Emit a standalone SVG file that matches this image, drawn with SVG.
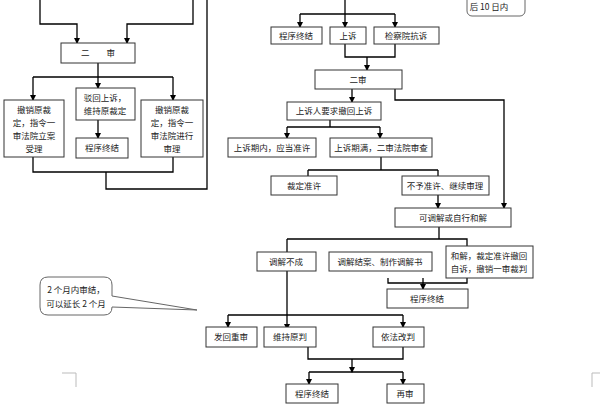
<svg xmlns="http://www.w3.org/2000/svg" width="600" height="405" viewBox="0 0 600 405">
<defs><marker id="a" markerWidth="6" markerHeight="6" refX="5" refY="3" orient="auto" markerUnits="userSpaceOnUse"><path d="M0,0 L6,3 L0,6 z" fill="#000"/></marker></defs>
<style>
rect{fill:#fff;stroke:#333;stroke-width:1}
.c path{fill:none;stroke:#000;stroke-width:1.3}
.c .ar{marker-end:url(#a)}
text{font-family:"Noto Sans CJK SC",sans-serif;font-size:8.5px;fill:#222;text-anchor:middle}
.bub{fill:#fff;stroke:#666}
</style>
<rect x="0" y="0" width="600" height="405" style="fill:#fff;stroke:none"/>
<g class="c">
<path d="M40,0V24H77V43" class="ar"/>
<path d="M193,0V24H127V43" class="ar"/>
<path d="M207,0V189H106V172"/>
<path d="M33,157V172H173V157"/>
<path d="M98,63V77"/>
<path d="M33,77H173"/>
<path d="M33,77V100" class="ar"/><path d="M98,77V88" class="ar"/><path d="M173,77V100" class="ar"/>
<path d="M98,120V138" class="ar"/>
<path d="M345,0V27" class="ar"/>
<path d="M300,14H395"/>
<path d="M300,14V27" class="ar"/><path d="M395,14V27" class="ar"/>
<path d="M345,44V57H395V44"/>
<path d="M367,57V70" class="ar"/>
<path d="M352,89V102" class="ar"/>
<path d="M395,89V100H504V208" class="ar"/>
<path d="M330,120V127"/>
<path d="M287,127H380"/>
<path d="M287,127V138" class="ar"/><path d="M380,127V138" class="ar"/>
<path d="M381,157V170"/>
<path d="M308,170H438"/>
<path d="M308,170V176"/>
<path d="M438,170V208" class="ar"/>
<path d="M439,227V239"/>
<path d="M287,239H467V246"/>
<path d="M287,239V329" class="ar"/>
<path d="M388,278V283H467V278"/>
<path d="M423,278V289" class="ar"/>
<path d="M228,315H403"/>
<path d="M228,315V327" class="ar"/><path d="M403,315V327" class="ar"/>
<path d="M308,347V359H403V347"/>
<path d="M352,359V372" class="ar"/>
<path d="M309,372H403"/>
<path d="M309,372V384" class="ar"/><path d="M403,372V384" class="ar"/>
</g>
<g id="n1"><rect x="61" y="43" width="74" height="20"/><text x="98" y="56">二　　审</text></g>
<g id="n2"><rect x="4" y="100" width="60" height="57"/><text x="34" y="113">撤销原裁</text><text x="34" y="126">定，指令一</text><text x="34" y="139">审法院立案</text><text x="34" y="152">受理</text></g>
<g id="n3"><rect x="76" y="88" width="59" height="32"/><text x="105" y="101">驳回上诉，</text><text x="105" y="114">维持原裁定</text></g>
<g id="n4"><rect x="76" y="138" width="52" height="20"/><text x="102" y="151">程序终结</text></g>
<g id="n5"><rect x="141" y="100" width="62" height="57"/><text x="172" y="113">撤销原裁</text><text x="172" y="126">定，指令一</text><text x="172" y="139">审法院进行</text><text x="172" y="152">审理</text></g>
<g id="n6"><rect x="271" y="27" width="51" height="17"/><text x="296" y="39">程序终结</text></g>
<g id="n7"><rect x="330" y="27" width="36" height="17"/><text x="348" y="39">上诉</text></g>
<g id="n8"><rect x="374" y="27" width="65" height="17"/><text x="406" y="39">检察院抗诉</text></g>
<g id="n9"><rect x="467" y="-6" width="58" height="22" rx="5" class="bub"/><text x="489" y="10">后 10 日内</text></g>
<g id="n10"><rect x="315" y="70" width="87" height="19"/><text x="358" y="83">二审</text></g>
<g id="n11"><rect x="287" y="102" width="94" height="18"/><text x="334" y="114">上诉人要求撤回上诉</text></g>
<g id="n12"><rect x="228" y="138" width="88" height="19"/><text x="272" y="151">上诉期内，应当准许</text></g>
<g id="n13"><rect x="330" y="138" width="102" height="19"/><text x="381" y="151">上诉期满，二审法院审查</text></g>
<g id="n14"><rect x="271" y="176" width="66" height="19"/><text x="304" y="189">裁定准许</text></g>
<g id="n15"><rect x="402" y="176" width="87" height="19"/><text x="445" y="189">不予准许、继续审理</text></g>
<g id="n16"><rect x="395" y="208" width="116" height="19"/><text x="453" y="221">可调解或自行和解</text></g>
<g id="n17"><rect x="257" y="252" width="59" height="19"/><text x="286" y="265">调解不成</text></g>
<g id="n18"><rect x="329" y="252" width="103" height="19"/><text x="380" y="265">调解结案、制作调解书</text></g>
<g id="n19"><rect x="446" y="246" width="87" height="32"/><text x="489" y="259">和解，裁定准许撤回</text><text x="489" y="272">自诉，撤销一审裁判</text></g>
<g id="n20"><rect x="387" y="289" width="81" height="19"/><text x="427" y="302">程序终结</text></g>
<g id="n21"><path d="M48,277H104Q112,277 112,285V296L197,310L112,307V307Q112,315 104,315H48Q40,315 40,307V285Q40,277 48,277Z" class="bub"/><text x="76" y="293">2 个月内审结，</text><text x="76" y="307">可以延长 2 个月</text></g>
<g id="n22"><rect x="206" y="327" width="51" height="20"/><text x="231" y="340">发回重审</text></g>
<g id="n23"><rect x="264" y="327" width="52" height="20"/><text x="290" y="340">维持原判</text></g>
<g id="n24"><rect x="373" y="327" width="51" height="20"/><text x="398" y="340">依法改判</text></g>
<g id="n25"><rect x="286" y="384" width="52" height="19"/><text x="312" y="397">程序终结</text></g>
<g id="n26"><rect x="387" y="384" width="37" height="19"/><text x="405" y="397">再审</text></g>
<path d="M62,373H76V387M592,387V373H600" fill="none" stroke="#bbb"/>
</svg>
